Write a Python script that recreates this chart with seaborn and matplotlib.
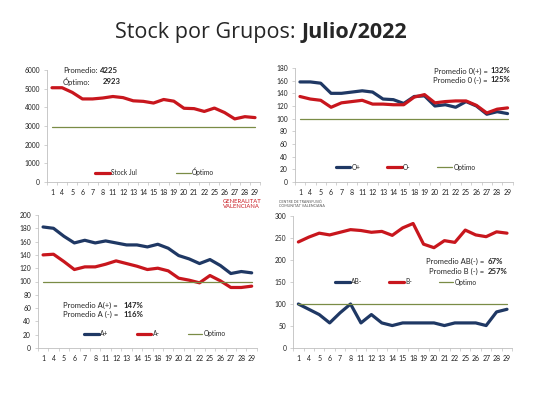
import numpy as np
import pandas as pd
import matplotlib
matplotlib.use("Agg")
import matplotlib.pyplot as plt
import seaborn as sns

# días de julio con datos
dias = ["1", "4", "5", "6", "7", "8", "11", "12", "13", "14", "15",
        "18", "19", "20", "21", "22", "25", "26", "27", "28", "29"]

stock_jul = [5050, 5050, 4800, 4450, 4450, 4500, 4580, 4520, 4350, 4320, 4230,
             4420, 4330, 3950, 3930, 3780, 3960, 3720, 3380, 3500, 3450]
optimo_stock = 2923

o_pos = [158, 158, 156, 140, 140, 142, 144, 142, 131, 130, 124,
         135, 136, 120, 122, 118, 127, 120, 107, 111, 108]
o_neg = [135, 131, 129, 118, 125, 127, 129, 123, 123, 122, 122,
         134, 138, 125, 127, 128, 128, 121, 109, 115, 117]

a_pos = [182, 180, 168, 158, 162, 158, 161, 158, 155, 155, 152,
         156, 150, 139, 134, 127, 133, 124, 112, 115, 113]
a_neg = [140, 141, 130, 118, 122, 122, 126, 131, 127, 123, 118,
         120, 116, 105, 102, 98, 109, 101, 91, 91, 93]

ab_neg = [100, 88, 76, 57, 80, 100, 57, 76, 57, 51, 57,
          57, 57, 57, 51, 57, 57, 57, 51, 82, 88]
b_neg = [241, 252, 261, 257, 263, 269, 267, 263, 265, 256, 273,
         283, 236, 228, 244, 240, 268, 257, 253, 264, 261]
optimo_pct = 100

ROJO = "#C8161D"
AZUL = "#1F3864"
OLIVA = "#7A8C46"
GRIS = "#BFBFBF"

sns.set_theme(style="white")
plt.rcParams["font.family"] = ["Lato", "DejaVu Sans"]

fig = plt.figure(figsize=(5.33, 4.0), dpi=100)
fig.patch.set_facecolor("white")

x = np.arange(len(dias))


def panel(rect, series, ylim, yticks, leg_y, leg_x, colspace):
    ax = fig.add_axes(rect)
    df = pd.DataFrame({"x": x})
    for name, vals, color, lw in series:
        df[name] = vals
        sns.lineplot(data=df, x="x", y=name, color=color, linewidth=lw,
                     ax=ax, label=name)
    ax.set_xlim(-0.5, len(dias) - 0.5)
    ax.set_ylim(*ylim)
    ax.set_yticks(yticks)
    ax.set_xticks(x)
    ax.set_xticklabels(dias)
    ax.set_xticks(np.arange(-0.5, len(dias)), minor=True)
    ax.set_xlabel("")
    ax.set_ylabel("")
    for s in ["top", "right"]:
        ax.spines[s].set_visible(False)
    for s in ["left", "bottom"]:
        ax.spines[s].set_color(GRIS)
        ax.spines[s].set_linewidth(0.6)
    ax.tick_params(axis="x", which="major", length=0, labelsize=5, pad=5, colors="#222222")
    ax.tick_params(axis="x", which="minor", length=2, width=0.5, color=GRIS, bottom=True)
    ax.tick_params(axis="y", length=2, width=0.5, color=GRIS, labelsize=4.8,
                   pad=3, left=True)
    for t in ax.get_yticklabels():
        t.set_color("#222222")
    ax.legend(loc="center left", bbox_to_anchor=(leg_x, leg_y), ncol=len(series),
              frameon=False, fontsize=4.8, handlelength=2.2, handletextpad=0.2,
              columnspacing=colspace, borderaxespad=0)
    return ax


def texto(ax, ya, label, valor, xv, xa=None):
    # etiqueta normal + valor en negrita
    if xa is None:
        ax.text(xv - 0.015, ya, label, transform=ax.transAxes, fontsize=5.5,
                ha="right", va="center")
    else:
        ax.text(xa, ya, label, transform=ax.transAxes, fontsize=5.5,
                ha="left", va="center")
    ax.text(xv, ya, valor, transform=ax.transAxes, fontsize=5.6, ha="left",
            va="center", fontweight="bold")


# arriba izquierda
ax1 = panel([0.088, 0.545, 0.40, 0.28],
            [("Stock Jul", stock_jul, ROJO, 2.3),
             ("Óptimo", [optimo_stock] * len(dias), OLIVA, 0.9)],
            (0, 6000), range(0, 6001, 1000), 0.09, 0.215, 5.8)
texto(ax1, 0.995, "Promedio:", "4225", 0.25, xa=0.075)
texto(ax1, 0.893, "Óptimo:", "2923", 0.26, xa=0.075)

# arriba derecha
ax2 = panel([0.553, 0.545, 0.409, 0.285],
            [("O+", o_pos, AZUL, 2.3), ("O-", o_neg, ROJO, 2.3),
             ("Optimo", [optimo_pct] * len(dias), OLIVA, 0.9)],
            (0, 180), range(0, 181, 20), 0.13, 0.175, 4.0)
texto(ax2, 0.974, "Promedio 0(+) =", "132%", 0.9)
texto(ax2, 0.895, "Promedio 0 (-) =", "125%", 0.9)

# abajo izquierda
ax3 = panel([0.071, 0.13, 0.411, 0.3325],
            [("A+", a_pos, AZUL, 2.3), ("A-", a_neg, ROJO, 2.3),
             ("Optimo", [optimo_pct] * len(dias), OLIVA, 0.9)],
            (0, 200), range(0, 201, 20), 0.11, 0.2, 4.2)
texto(ax3, 0.318, "Promedio A(+) =", "147%", 0.393, xa=0.114)
texto(ax3, 0.254, "Promedio A (-) =", "116%", 0.393, xa=0.114)

# abajo derecha
ax4 = panel([0.55, 0.13, 0.411, 0.33],
            [("AB-", ab_neg, AZUL, 2.3), ("B-", b_neg, ROJO, 2.3),
             ("Optimo", [optimo_pct] * len(dias), OLIVA, 0.9)],
            (0, 300), range(0, 301, 50), 0.5, 0.18, 4.0)
texto(ax4, 0.659, "Promedio AB(-) =", "67%", 0.888)
texto(ax4, 0.583, "Promedio B (-) =", "257%", 0.888)

# título
fig.text(0.565, 0.918, "Stock por Grupos: ", fontsize=15.5, ha="right", va="center",
         family=["Open Sans", "DejaVu Sans"])
fig.text(0.565, 0.918, "Julio/2022", fontsize=15.5, ha="left", va="center",
         fontweight="bold", family=["Open Sans", "DejaVu Sans"])

# logotipos (texto)
fig.text(0.418, 0.49, "GENERALITAT\nVALENCIANA", fontsize=4.2, color=ROJO,
         ha="left", va="center", linespacing=1.0)
fig.text(0.523, 0.49, "CENTRE DE TRANSFUSIÓ\nCOMUNITAT VALENCIANA", fontsize=2.6,
         color="#555555", ha="left", va="center", linespacing=1.1)

fig.savefig("out.png", dpi=100, facecolor="white")
